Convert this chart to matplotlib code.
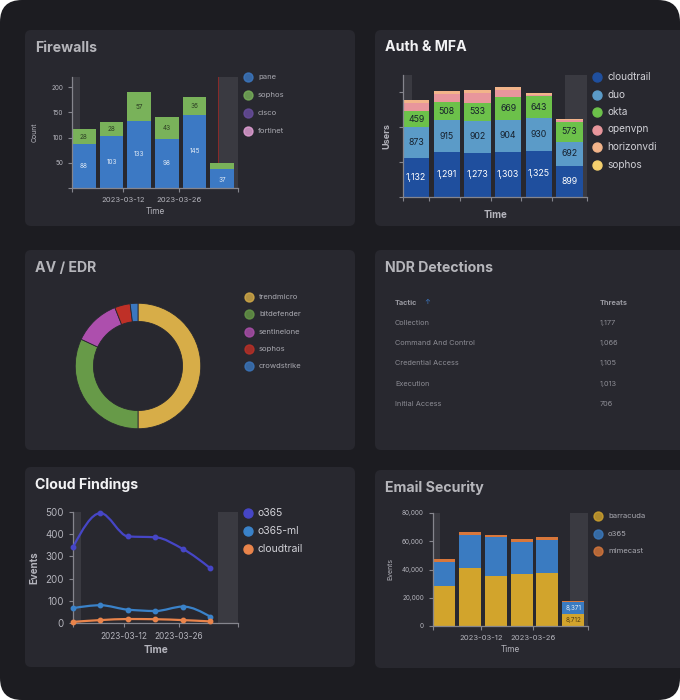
import numpy as np
import matplotlib
matplotlib.use("Agg")
from matplotlib import pyplot as plt
from matplotlib.patches import FancyBboxPatch, PathPatch
from matplotlib.path import Path
import matplotlib.dates as mdates

plt.rcParams['font.family'] = ['Inter', 'DejaVu Sans']

# ---------------------------------------------------------------- data
weeks = ['2023-02-27', '2023-03-06', '2023-03-13', '2023-03-20', '2023-03-27', '2023-04-03']

fw_names = ['pane', 'sophos', 'cisco', 'fortinet']
fw_pane = [88, 103, 133, 98, 145, 37]
fw_sophos = [28, 28, 57, 43, 36, 12]
fw_cisco = [0, 0, 0, 0, 0, 0]
fw_fortinet = [0, 0, 0, 0, 0, 0]

auth_names = ['cloudtrail', 'duo', 'okta', 'openvpn', 'horizonvdi', 'sophos']
auth_cloudtrail = [1132, 1291, 1273, 1303, 1325, 899]
auth_duo = [873, 915, 902, 904, 930, 692]
auth_okta = [459, 508, 533, 669, 643, 573]
auth_openvpn = [240, 250, 270, 190, 20, 40]
auth_horizonvdi = [65, 70, 80, 80, 60, 30]
auth_sophos = [10, 10, 10, 10, 10, 5]

av_names = ['trendmicro', 'bitdefender', 'sentinelone', 'sophos', 'crowdstrike']
av_share = [50, 32, 12, 4, 2]

ndr_tactics = ['Collection', 'Command And Control', 'Credential Access', 'Execution', 'Initial Access']
ndr_threats = ['1,177', '1,066', '1,105', '1,013', '706']

cloud_names = ['o365', 'o365-ml', 'cloudtrail']
cloud_o365 = [342, 495, 390, 386, 333, 246]
cloud_o365ml = [67, 80, 60, 54, 74, 28]
cloud_cloudtrail = [5, 13, 18, 17, 13, 7]

mail_names = ['barracuda', 'o365', 'mimecast']
mail_barracuda = [28250, 40800, 35100, 36600, 37300, 8712]
mail_o365 = [17300, 23300, 27600, 23200, 23700, 8371]
mail_mimecast = [1900, 2400, 1400, 1700, 1700, 400]

tick_dates = ['2023-03-12', '2023-03-26']

# ---------------------------------------------------------------- styles
W, H = 680, 700
OUTER = '#1c1c21'
PANEL = '#28282f'
BAND = '#3a3a41'
AXC = '#85858d'
TXT = '#b4b4bc'

fig = plt.figure(figsize=(6.8, 7.0), dpi=100)
fig.patch.set_facecolor('white')

bg = fig.add_axes([0, 0, 1, 1])
bg.set_xlim(0, W)
bg.set_ylim(H, 0)
bg.axis('off')
bg.add_patch(FancyBboxPatch((0, 0), W, H, boxstyle='round,pad=0,rounding_size=22',
                            fc=OUTER, ec='none'))

def panel(x0, y0, x1, y1, title, ty, blur):
    bg.add_patch(FancyBboxPatch((x0, y0), x1 - x0, y1 - y0,
                                boxstyle='round,pad=0,rounding_size=6', fc=PANEL, ec='none'))
    bg.text(x0 + 10, ty, title, fontsize=10.2, fontweight='bold',
            color='#cfcfd4' if blur else '#f2f2f4', va='center', ha='left', alpha=0.85 if blur else 1)

def legend(x, y, names, colors, dy, size=7, blur=False):
    for i, (n, c) in enumerate(zip(names, colors)):
        bg.scatter([x], [y + i * dy], s=42, color=c, zorder=5, alpha=0.8 if blur else 1)
        bg.text(x + 10, y + i * dy, n, fontsize=size, color='#d0d0d6' if not blur else '#a8a8b0',
                va='center', ha='left')

def ax_px(x0, y0, x1, y1):
    a = fig.add_axes([x0 / W, 1 - y1 / H, (x1 - x0) / W, (y1 - y0) / H])
    a.set_facecolor('none')
    for s in ['top', 'right']:
        a.spines[s].set_visible(False)
    for s in ['left', 'bottom']:
        a.spines[s].set_color(AXC)
        a.spines[s].set_linewidth(0.9)
    a.tick_params(colors=AXC, length=3, width=0.8, labelcolor=TXT)
    return a

wk = mdates.datestr2num(weeks)
x_lo = mdates.datestr2num('2023-02-27')
x_hi = mdates.datestr2num('2023-04-10')
band_l = mdates.datestr2num('2023-03-01')
band_r = mdates.datestr2num('2023-04-05')
td = mdates.datestr2num(tick_dates)

def time_axis(a, labels=True, weekly=False, fs=5.5):
    a.set_xlim(x_lo, x_hi)
    a.axvspan(x_lo, band_l, color=BAND, zorder=0, lw=0)
    a.axvspan(band_r, x_hi, color=BAND, zorder=0, lw=0)
    if weekly:
        ticks = [x_lo] + list(wk[1:] - 1) + [x_hi]
        a.set_xticks(ticks)
        a.set_xticklabels([])
    else:
        a.set_xticks([x_lo, td[0], td[1], x_hi])
        a.set_xticklabels(['', tick_dates[0], tick_dates[1], ''] if labels else [], fontsize=fs)

# ---------------------------------------------------------------- Firewalls (blurred)
panel(25, 30, 355, 226, 'Firewalls', 48, True)
a = ax_px(72, 77, 238, 188)
time_axis(a)
a.axvline(band_r, color='#8a2a2a', lw=0.7, zorder=1)
fw_cols = ['#3c79c4', '#79b25a', '#6a4ea0', '#e6a2d9']
bottom = np.zeros(6)
for vals, c in zip([fw_pane, fw_sophos, fw_cisco, fw_fortinet], fw_cols):
    a.bar(wk, vals, width=6, bottom=bottom, align='edge', color=c, zorder=2)
    bottom += np.array(vals)
for i in range(6):
    a.text(wk[i] + 3, fw_pane[i] / 2 if i < 5 else fw_pane[i] * 0.45, str(fw_pane[i]),
           ha='center', va='center', fontsize=4.6, color='white', alpha=0.85)
    if i < 5:
        a.text(wk[i] + 3, fw_pane[i] + fw_sophos[i] / 2, str(fw_sophos[i]),
               ha='center', va='center', fontsize=4.6, color='#1f2a1a', alpha=0.85)
a.set_ylim(0, 220)
a.set_yticks([0, 50, 100, 150, 200])
a.set_yticklabels(['', '50', '100', '150', '200'], fontsize=4.6)
a.set_ylabel('Count', fontsize=5, color=TXT, labelpad=10)
a.set_xlabel('Time', fontsize=6, color=TXT, labelpad=3)
legend(248, 77, fw_names, fw_cols, 18, size=5.5, blur=True)

# ---------------------------------------------------------------- Auth & MFA
panel(375, 30, 700, 226, 'Auth & MFA', 47, False)
a = ax_px(403, 75, 587, 197)
time_axis(a, weekly=True)
auth_cols = ['#1f4f9e', '#5b9bc8', '#6cc14a', '#e8969c', '#f2b48a', '#f3cf6e']
bottom = np.zeros(6)
for vals, c in zip([auth_cloudtrail, auth_duo, auth_okta, auth_openvpn, auth_horizonvdi, auth_sophos], auth_cols):
    a.bar(wk, vals, width=6, bottom=bottom, align='edge', color=c, zorder=2)
    bottom += np.array(vals)
for i in range(6):
    a.text(wk[i] + 3, auth_cloudtrail[i] / 2, f'{auth_cloudtrail[i]:,}', ha='center', va='center',
           fontsize=6.3, color='white')
    a.text(wk[i] + 3, auth_cloudtrail[i] + auth_duo[i] / 2, f'{auth_duo[i]:,}', ha='center',
           va='center', fontsize=6.3, color='#16202c')
    a.text(wk[i] + 3, auth_cloudtrail[i] + auth_duo[i] + auth_okta[i] / 2, f'{auth_okta[i]:,}',
           ha='center', va='center', fontsize=6.3, color='#16202c')
a.set_ylim(0, 3500)
a.set_yticks([0, 1000, 2000, 3000])
a.set_yticklabels([])
a.set_ylabel('Users', fontsize=6.5, color=TXT, fontweight='bold', labelpad=2)
a.set_xlabel('Time', fontsize=7, color=TXT, fontweight='bold', labelpad=3)
legend(597, 77, auth_names, auth_cols, 17.5, size=7.2)

# ---------------------------------------------------------------- AV / EDR (blurred)
panel(25, 250, 355, 450, 'AV / EDR', 268, True)
a = fig.add_axes([74 / W, 1 - 430 / H, 128 / W, 128 / H])
a.set_facecolor('none')
av_cols = ['#d7ad48', '#679a48', '#ad4fad', '#bf3027', '#3b77bf']
a.pie(av_share, colors=av_cols, startangle=90, counterclock=False, radius=1,
      wedgeprops=dict(width=0.29, edgecolor=PANEL, linewidth=0.6))
a.set_xlim(-1.02, 1.02)
a.set_ylim(-1.02, 1.02)
a.set_aspect('equal')
legend(249, 297, av_names, av_cols, 17.3, size=5.5, blur=True)

# ---------------------------------------------------------------- NDR (blurred)
panel(375, 250, 700, 450, 'NDR Detections', 268, True)
bg.text(395, 303, 'Tactic', fontsize=5.3, fontweight='bold', color='#9a9aa2', va='center')
bg.text(424, 302, '↑', fontsize=5, color='#3f7fcf', va='center')
bg.text(600, 303, 'Threats', fontsize=5.3, fontweight='bold', color='#9a9aa2', va='center')
for i, (t, v) in enumerate(zip(ndr_tactics, ndr_threats)):
    bg.text(395, 323 + i * 20.2, t, fontsize=5.3, color='#8c8c94', va='center')
    bg.text(600, 323 + i * 20.2, v, fontsize=5.3, color='#8c8c94', va='center')

# ---------------------------------------------------------------- Cloud Findings
panel(25, 467, 355, 667, 'Cloud Findings', 485, False)
a = ax_px(73, 512, 238, 623)
time_axis(a, fs=6)
cloud_cols = ['#4646c6', '#3a82c9', '#e9844b']

def monotone(x, y):
    x = np.asarray(x, float)
    y = np.asarray(y, float)
    dx = np.diff(x)
    s = np.diff(y) / dx
    m = np.zeros(len(x))
    for i in range(1, len(x) - 1):
        if s[i - 1] * s[i] > 0:
            m[i] = 3 * (dx[i - 1] + dx[i]) / ((2 * dx[i] + dx[i - 1]) / s[i - 1] + (dx[i] + 2 * dx[i - 1]) / s[i])
    m[0] = (3 * s[0] - m[1]) / 2
    m[-1] = (3 * s[-1] - m[-2]) / 2
    verts = [(x[0], y[0])]
    codes = [Path.MOVETO]
    for i in range(len(x) - 1):
        h = dx[i] / 3
        verts += [(x[i] + h, y[i] + m[i] * h), (x[i + 1] - h, y[i + 1] - m[i + 1] * h), (x[i + 1], y[i + 1])]
        codes += [Path.CURVE4] * 3
    return Path(verts, codes)

for vals, c in zip([cloud_o365, cloud_o365ml, cloud_cloudtrail], cloud_cols):
    a.add_patch(PathPatch(monotone(wk, vals), fc='none', ec=c, lw=1.6, zorder=3, clip_on=False))
    a.plot(wk, vals, 'o', ms=3.2, color=c, zorder=4, clip_on=False)
a.set_ylim(0, 500)
a.set_yticks([0, 100, 200, 300, 400, 500])
a.tick_params(axis='y', labelsize=7)
a.set_ylabel('Events', fontsize=7, color=TXT, fontweight='bold', labelpad=4)
a.set_xlabel('Time', fontsize=7.3, color=TXT, fontweight='bold', labelpad=3)
legend(248, 513, cloud_names, cloud_cols, 18, size=7.5)

# ---------------------------------------------------------------- Email Security (blurred)
panel(375, 470, 700, 668, 'Email Security', 488, True)
a = ax_px(433, 513, 588, 626)
time_axis(a)
mail_cols = ['#d2a42c', '#3a7bc1', '#d8773b']
bottom = np.zeros(6)
for vals, c in zip([mail_barracuda, mail_o365, mail_mimecast], mail_cols):
    a.bar(wk, vals, width=6, bottom=bottom, align='edge', color=c, zorder=2)
    bottom += np.array(vals)
a.text(wk[5] + 3, mail_barracuda[5] / 2, f'{mail_barracuda[5]:,}', ha='center', va='center',
       fontsize=4.6, color='#3a2a10', alpha=0.85)
a.text(wk[5] + 3, mail_barracuda[5] + mail_o365[5] / 2, f'{mail_o365[5]:,}', ha='center',
       va='center', fontsize=4.6, color='white', alpha=0.85)
a.set_ylim(0, 80000)
a.set_yticks([0, 20000, 40000, 60000, 80000])
a.set_yticklabels(['0', '20,000', '40,000', '60,000', '80,000'], fontsize=4.6)
a.set_ylabel('Events', fontsize=5, color=TXT, labelpad=6)
a.set_xlabel('Time', fontsize=6, color=TXT, labelpad=3)
legend(598, 516, mail_names, mail_cols, 17.5, size=5.5, blur=True)

fig.savefig('out.png', dpi=100, facecolor=fig.get_facecolor())
